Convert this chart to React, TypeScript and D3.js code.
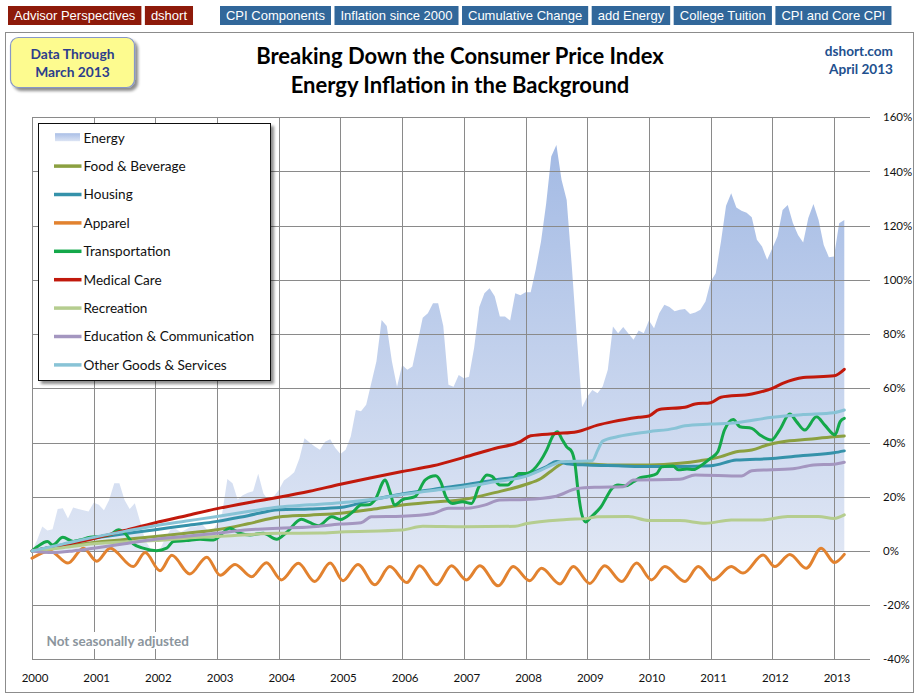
import React from 'react';
import * as d3 from 'd3';

// ---------- DATA ----------
const YEARS = ['2000','2001','2002','2003','2004','2005','2006','2007','2008','2009','2010','2011','2012','2013'];
const Y_TICKS = [-40, -20, 0, 20, 40, 60, 80, 100, 120, 140, 160];

// Energy, monthly cumulative % change since Jan 2000 (Jan 2000 .. Mar 2013)
const energy = [
  0, 4, 9, 7.5, 8, 15.5, 15.7, 12, 16, 15.5, 15, 14.5,
  17.8, 17, 15, 18.8, 25, 25, 18.8, 15.5, 17.6, 11, 4, 1,
  0, 1, 5, 8, 8, 7, 8, 9, 9, 10, 8, 7,
  10, 14, 26.5, 25, 19, 20.5, 21.5, 22, 28.5, 21.3, 18.5, 20,
  22.5, 26, 27.4, 29, 34, 41.6, 40, 38.5, 37.3, 40.3, 41.2, 38,
  35.8, 37.3, 42.2, 52, 51.5, 53.9, 62, 70, 85.2, 83, 70, 60.6,
  68.6, 66.8, 68, 77, 86, 87.7, 91.4, 91.4, 83, 61.3, 60.6, 64.9,
  63.7, 64.3, 75, 90, 95.1, 96.9, 94, 86.5, 86.5, 85, 95.1, 94.3,
  95.4, 95.4, 104, 114.1, 128, 145.5, 149.8, 137, 129.5, 105, 78, 53,
  56.9, 59.4, 58.2, 60.7, 66.8, 82.8, 80.3, 82.6, 80.2, 77.9, 81.3, 80.3,
  85, 82.2, 87.7, 90.8, 90, 88.4, 89, 89.3, 87.4, 88, 89, 92,
  99.4, 102.5, 114, 127.4, 132, 126.7, 125.5, 124.8, 123.1, 114.8, 112.3, 107.4,
  111.7, 116, 125.8, 127.6, 121, 116.6, 113.8, 122.8, 128, 122.1, 112.9, 108.4,
  108.6, 120.9, 122.1,
];

// Other series: [month index since Jan 2000, cumulative % change]
const foodBeverage: [number, number][] = [
  [0,0],[6,1.5],[12,3.1],[18,4.2],[24,5.3],[30,6.5],[36,7.8],[42,10],[48,12.5],[54,13.2],[60,13.9],
  [66,15.3],[72,16.9],[78,18],[84,19],[90,21.5],[96,24.5],[99,26.7],[101,29.5],[104,32.9],[107,32.3],
  [112,31.7],[120,31.7],[126,32.3],[130,33.3],[134,34.8],[137,36.6],[140,37.2],[143,39.1],[146,40.3],
  [151,41.2],[156,42.1],[158,42.4],
];
const housing: [number, number][] = [
  [0,0],[6,2.3],[12,4.7],[18,6.3],[24,7.8],[30,9.4],[36,10.9],[42,13],[48,15.2],[54,15.5],[60,16],
  [66,18.8],[72,21],[78,22.7],[84,24.3],[90,26.2],[96,28],[100,31],[102,33],[104,32.2],[108,31.7],
  [114,31.4],[120,31.1],[126,31.1],[132,31.4],[137,33.5],[144,34.1],[150,35.2],[156,36.2],[158,36.9],
];
const apparel: [number, number][] = [
  [0,-2.7],[3.5,0],[7,-4.5],[10,1],[12.6,-3.8],[15.2,1],[19.7,-5.8],[22,-0.6],[24.9,-7.3],[27.2,-1.6],
  [30.7,-8.5],[34,-2.3],[36.6,-9],[39.5,-5],[42.7,-9.5],[45.6,-4.4],[48.5,-10.7],[51.8,-4.6],[55,-11.3],
  [58,-4.5],[60.5,-11],[63.4,-5],[66.7,-12.5],[69.6,-5.8],[72.9,-11.7],[75.4,-5.5],[78.7,-12.5],
  [81.6,-5.5],[84.5,-10.7],[87.1,-5.5],[90.7,-12.9],[93.6,-5.8],[96.8,-11],[99.1,-6.4],[102.7,-12.2],
  [105.3,-5.8],[108.5,-12],[111.4,-5.5],[114.7,-11.3],[117.6,-4.5],[120.5,-10.7],[123.1,-5.8],[127,-11.3],
  [129.6,-5.8],[132.5,-10.7],[136,-5.8],[138.3,-8.2],[142.2,-1.5],[144.5,-5.8],[147.4,-1.3],[150.6,-6.4],
  [153.5,1],[156.1,-4.3],[158,-1.3],
];
const transportation: [number, number][] = [
  [0,0],[1,1.5],[3,3.5],[4,2.2],[6,5],[8,3.5],[9.3,4],[11.3,5],[13.2,5.3],[15.2,5.9],[16.8,7.8],[18.1,6.5],
  [19.7,2.6],[21.6,1],[24.2,0.1],[26.2,1],[27.5,3.5],[30,3.8],[32.7,4.3],[35.3,4],[38.5,8.4],[40.4,6.5],
  [42.4,5.9],[45,6.5],[47.6,4.3],[49.5,6.8],[52.4,11.7],[54,10.5],[55.7,9.3],[58.3,12.6],[60,11.6],
  [62.4,14.4],[64,16.9],[65.5,17],[66.7,18.8],[68.7,26.2],[69.6,22],[70.5,16.9],[72,18.8],[74.5,20],
  [76.5,26.2],[78.5,27.7],[79.5,25.5],[80.5,20],[81.8,17.5],[83.7,18.1],[85.5,17.5],[86.9,23.6],[88.5,28],
  [89.5,27.5],[91,24.3],[92.5,24.3],[94.7,28.6],[96.2,28.6],[98.8,32.9],[100.1,37.2],[101.4,42.7],
  [102.2,44],[103,41.5],[104,38.4],[105,36.6],[105.6,32.3],[106.2,22.4],[106.9,13.8],[107.7,10.7],
  [108.8,12.6],[109.8,14.4],[110.7,16.3],[111.8,20],[112.8,23],[114,24.3],[115.5,24],[117,25.5],
  [118.3,27],[120,27.6],[121.5,28.5],[122.5,31],[124.7,31.3],[125.7,29.9],[127.4,30.2],[128.6,30],
  [130,31.3],[132,34.2],[133.4,36.6],[134.7,44.6],[136.4,48.5],[137.7,45.8],[140,45.2],[141.6,42.8],
  [143.8,40.9],[145.4,44.6],[147.4,50.5],[148.7,47.7],[150.3,44.6],[152.6,49.5],[154.2,46.4],
  [156.2,42.8],[157.2,47.7],[158,48.9],
];
const medicalCare: [number, number][] = [
  [0,0],[6,2.2],[12,4.6],[18,7.5],[24,10.4],[30,13],[36,15.6],[42,17.8],[48,19.8],[54,22],[60,24.6],
  [66,27],[72,29.3],[78,31.4],[84,34.5],[90,37.8],[95,40.3],[97,42.5],[102,43.3],[106,44],[110,46.4],
  [113,47.7],[118,49.3],[120,49.8],[122,52.2],[127,53],[129,54.2],[132,54.7],[134,56.7],[140,57.9],
  [144,60],[146,61.8],[150,64],[156,64.6],[158,67],
];
const recreation: [number, number][] = [
  [0,0],[6,1.2],[12,2.6],[24,3.8],[30,4.7],[36,5.3],[48,6.5],[56,6.6],[60,7],[72,7.7],[76,9.1],[84,8.9],
  [94,9.1],[96,10],[104,11.6],[108,12],[110,12.6],[116,12.7],[120,11.2],[126,11.2],[131,10.2],[136,11.4],
  [142,11.4],[147,12.7],[153,12.7],[156,12],[158,13.3],
];
const educationCommunication: [number, number][] = [
  [0,0],[4,-0.6],[8,0],[12,1],[18,2.6],[24,4.3],[30,5.4],[36,6.5],[42,7.8],[48,8.4],[54,8.8],[60,9.9],
  [64,10.4],[66,12.6],[72,12.8],[78,13.8],[81,15.7],[84,15.7],[88,16.9],[91,18.8],[96,19],[102,20.2],
  [106,23],[110,23.5],[115,23.7],[117,26.2],[126,26.4],[129,28],[138,27.6],[140,29.6],[148,30.3],
  [152,31.7],[156,32],[158,32.7],
];
const otherGoods: [number, number][] = [
  [0,0],[6,2.5],[12,5],[18,7.2],[24,9.3],[30,11],[36,12.7],[42,14.5],[48,16.2],[54,17],[60,17.8],[66,19],
  [72,20.8],[78,22.3],[84,23.6],[90,25.5],[96,27.5],[99,29.8],[101,31.6],[103,32.9],[109,33.3],[110,37],
  [111,40.5],[114,42.2],[120,44],[125,45.2],[127,46.2],[132,46.8],[137,47.3],[144,49.3],[150,50.3],
  [156,51],[158,52],
];

const SERIES_NAMES = ['Food & Beverage','Housing','Apparel','Transportation','Medical Care','Recreation','Education & Communication','Other Goods & Services'];
const SERIES_COLORS = ['#8ba040','#3592aa','#e2822f','#14a84a','#c1190c','#b5cd8f','#a496c0','#88c3d6'];
const SERIES_DATA = [foodBeverage, housing, apparel, transportation, medicalCare, recreation, educationCommunication, otherGoods];

const RED_BUTTONS = ['Advisor Perspectives', 'dshort'];
const BLUE_BUTTONS = ['CPI Components', 'Inflation since 2000', 'Cumulative Change', 'add Energy', 'College Tuition', 'CPI and Core CPI'];

// ---------- LAYOUT ----------
const W = 916, H = 694;
const PLOT = { left: 32, right: 870, top: 117.3, bottom: 659.3 };
const BODY = 'Lato, "Open Sans", sans-serif';
const BTN_FONT = '13px "Liberation Sans", Arial, sans-serif';

function measure(text: string, font: string): number {
  const c = document.createElement('canvas').getContext('2d');
  if (!c) return text.length * 7;
  c.font = font;
  return c.measureText(text).width;
}

export default function App() {
  const x = d3.scaleLinear().domain([0, 163]).range([PLOT.left, PLOT.right]);
  const y = d3.scaleLinear().domain([-40, 160]).range([PLOT.bottom, PLOT.top]);

  const area = d3.area<number>()
    .x((_, i) => x(i))
    .y0(() => y(0))
    .y1((d) => y(d))
    .curve(d3.curveLinear);

  const line = d3.line<[number, number]>()
    .x((d) => x(d[0]))
    .y((d) => y(d[1]))
    .curve(d3.curveMonotoneX);

  // buttons
  const buttons: { label: string; x: number; w: number; color: string }[] = [];
  let bx = 8;
  RED_BUTTONS.forEach((b) => {
    const w = measure(b, BTN_FONT) + 12;
    buttons.push({ label: b, x: bx, w, color: '#8e1a0a' });
    bx += w + 3.5;
  });
  bx = 220;
  BLUE_BUTTONS.forEach((b) => {
    const w = measure(b, BTN_FONT) + 12;
    buttons.push({ label: b, x: bx, w, color: '#31679a' });
    bx += w + 3.5;
  });

  const legendItems = ['Energy', ...SERIES_NAMES];
  const legendTop = 137.7;
  const legendStep = 28.4;

  return (
    <svg width={W} height={H} style={{ position: 'absolute', left: 0, top: 0, background: '#fff' }}
      xmlns="http://www.w3.org/2000/svg">
      <defs>
        <linearGradient id="energyGrad" gradientUnits="userSpaceOnUse" x1="0" x2="0" y1={y(150)} y2={y(0)}>
          <stop offset="0" stopColor="#a3bae4" />
          <stop offset="1" stopColor="#dfe6f4" />
        </linearGradient>
        <linearGradient id="energySwatch" x1="0" x2="0" y1="0" y2="1">
          <stop offset="0" stopColor="#a9bee6" />
          <stop offset="1" stopColor="#dce4f4" />
        </linearGradient>
        <filter id="shadow" x="-10%" y="-10%" width="130%" height="130%">
          <feGaussianBlur in="SourceAlpha" stdDeviation="1.6" />
          <feOffset dx="3" dy="3" result="ob" />
          <feComponentTransfer><feFuncA type="linear" slope="0.45" /></feComponentTransfer>
          <feMerge><feMergeNode /><feMergeNode in="SourceGraphic" /></feMerge>
        </filter>
      </defs>

      <rect x={0} y={0} width={W} height={H} fill="#fff" />

      {/* top buttons */}
      {buttons.map((b) => (
        <g key={b.label}>
          <rect x={b.x} y={6} width={b.w} height={19} fill={b.color} />
          <text x={b.x + b.w / 2} y={20} textAnchor="middle" fill="#fff"
            style={{ font: BTN_FONT }}>{b.label}</text>
        </g>
      ))}

      {/* chart frame */}
      <rect x={5.5} y={32.5} width={908} height={660} fill="#fff" stroke="#8c8c8c" strokeWidth={1} />

      {/* energy area */}
      <path d={area(energy) || ''} fill="url(#energyGrad)" />

      {/* gridlines */}
      {Y_TICKS.map((t) => (
        <line key={'h' + t} x1={PLOT.left} x2={PLOT.right} y1={Math.round(y(t)) + 0.5} y2={Math.round(y(t)) + 0.5}
          stroke="#8a8a8a" strokeWidth={1} />
      ))}
      {YEARS.map((yr, i) => (
        <line key={'v' + yr} x1={Math.round(x(i * 12)) + 0.5} x2={Math.round(x(i * 12)) + 0.5}
          y1={PLOT.top} y2={PLOT.bottom} stroke="#8a8a8a" strokeWidth={1} />
      ))}

      {/* series lines */}
      {SERIES_DATA.map((d, i) => (
        <path key={SERIES_NAMES[i]} d={line(d) || ''} fill="none" stroke={SERIES_COLORS[i]}
          strokeWidth={3} strokeLinejoin="round" strokeLinecap="round" />
      ))}

      {/* axis labels */}
      {Y_TICKS.map((t) => (
        <text key={'yl' + t} x={883} y={y(t) + 4} fontFamily={BODY} fontSize={11.5} fill="#111">{t + '%'}</text>
      ))}
      {YEARS.map((yr, i) => (
        <text key={'xl' + yr} x={x(i * 12) + 3} y={681.5} textAnchor="middle" fontFamily={BODY} fontSize={11.5} fill="#111">{yr}</text>
      ))}

      {/* note */}
      <rect x={44} y={632} width={152} height={17} fill="#fff" />
      <text x={46.5} y={646} fontFamily={BODY} fontWeight={700} fontSize={13.5} fill="#8b959d">Not seasonally adjusted</text>

      {/* titles */}
      <text x={460} y={64} textAnchor="middle" fontFamily={BODY} fontWeight={700} fontSize={22} fill="#000">Breaking Down the Consumer Price Index</text>
      <text x={460} y={93} textAnchor="middle" fontFamily={BODY} fontWeight={700} fontSize={22} fill="#000">Energy Inflation in the Background</text>

      {/* data through box */}
      <rect x={10.5} y={37.5} width={124} height={50} rx={8} ry={8} fill="#fdfb8f" stroke="#8797c8" strokeWidth={1.2} filter="url(#shadow)" />
      <text x={72.5} y={59} textAnchor="middle" fontFamily={BODY} fontWeight={700} fontSize={13.8} fill="#2d3e8c">Data Through</text>
      <text x={72.5} y={77} textAnchor="middle" fontFamily={BODY} fontWeight={700} fontSize={13.8} fill="#2d3e8c">March 2013</text>

      {/* source */}
      <text x={893} y={56} textAnchor="end" fontFamily={BODY} fontWeight={700} fontSize={13.6} fill="#22508e">dshort.com</text>
      <text x={893} y={73.5} textAnchor="end" fontFamily={BODY} fontWeight={700} fontSize={13.6} fill="#22508e">April 2013</text>

      {/* legend */}
      <rect x={38.5} y={123.5} width={232} height={257} fill="#fff" stroke="#111" strokeWidth={1} filter="url(#shadow)" />
      {legendItems.map((name, i) => {
        const cy = legendTop + i * legendStep;
        return (
          <g key={'lg' + name}>
            {i === 0 ? (
              <rect x={55} y={cy - 4.5} width={25} height={8} fill="url(#energySwatch)" />
            ) : (
              <line x1={54} x2={81.5} y1={cy} y2={cy} stroke={SERIES_COLORS[i - 1]} strokeWidth={3.5} />
            )}
            <text x={83.5} y={cy + 4.8} fontFamily={BODY} fontSize={13.6} fill="#111">{name}</text>
          </g>
        );
      })}
    </svg>
  );
}
